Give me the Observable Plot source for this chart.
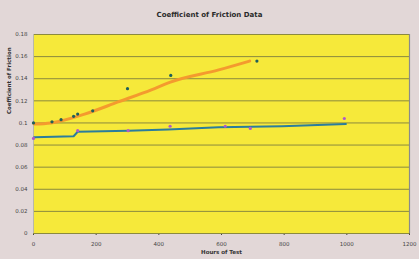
<!DOCTYPE html>
<html>
<head>
<meta charset="utf-8">
<script src="https://cdn.jsdelivr.net/npm/d3@7"></script>
<script src="https://cdn.jsdelivr.net/npm/@observablehq/plot@0.6"></script>
<style>
  html, body { margin: 0; padding: 0; background: #ffffff; }
  #wrap { width: 419px; height: 259px; background: #e2d7d7; overflow: hidden; }
  #title { height: 26px; text-align: center; box-sizing: border-box; padding-top: 11px;
           font: bold 7px "DejaVu Sans", sans-serif; color: #2a2a2a; }
</style>
</head>
<body>
<div id="wrap">
  <div id="title">Coefficient of Friction Data</div>
  <div id="chart"></div>
</div>
<script>
// Series 1: measured (dark teal dots) and orange trend line
const hoursDots = [0, 59, 88, 128, 141, 189, 300, 438, 713];
const cofDots = [0.100, 0.101, 0.103, 0.106, 0.108, 0.111, 0.131, 0.143, 0.156];
const hoursOrange = [2, 55, 163, 270, 376, 437, 591, 690];
const cofOrange = [0.099, 0.100, 0.108, 0.119, 0.130, 0.137, 0.148, 0.156];
// Series 2: blue line and purple dots
const hoursBlue = [2, 128, 141, 302, 430, 591, 793, 997];
const cofBlue = [0.087, 0.088, 0.092, 0.093, 0.094, 0.096, 0.097, 0.099];
const hoursPurple = [0, 141, 302, 436, 612, 692, 992];
const cofPurple = [0.086, 0.093, 0.093, 0.097, 0.097, 0.095, 0.104];
// Axes
const xTicks = [0, 200, 400, 600, 800, 1000, 1200];
const yTicks = [0, 0.02, 0.04, 0.06, 0.08, 0.1, 0.12, 0.14, 0.16, 0.18];
const xLabel = "Hours of Test";
const yLabel = "Coefficient of Friction";

const zip = (xs, ys) => xs.map((x, i) => ({x, y: ys[i]}));
const fmt = d => d === 0 ? "0" : String(+d.toFixed(2));

const chart = Plot.plot({
  width: 419,
  height: 233,
  marginTop: 8,
  marginBottom: 26,
  marginLeft: 33,
  marginRight: 10,
  style: {background: "transparent", fontFamily: "DejaVu Sans, sans-serif", fontSize: "5.5px", color: "#444"},
  x: {domain: [0, 1200], ticks: xTicks, label: null, tickSize: 2, tickFormat: d => String(d)},
  y: {domain: [0, 0.18], ticks: yTicks, label: null, tickSize: 0, tickPadding: 6, tickFormat: fmt},
  marks: [
    Plot.frame({fill: "#f6e93a", stroke: "none"}),
    Plot.gridY(yTicks, {stroke: "#8b8a3e", strokeOpacity: 1, strokeWidth: 1}),
    Plot.ruleX([1200], {stroke: "#8a8a8a", strokeWidth: 1.2}),
    Plot.ruleX([0], {stroke: "#b8b8a8", strokeWidth: 1}),
    Plot.line(zip(hoursOrange, cofOrange), {x: "x", y: "y", stroke: "#f49a2e", strokeWidth: 3, curve: "monotone-x"}),
    Plot.line(zip(hoursBlue, cofBlue), {x: "x", y: "y", stroke: "#2b7d9c", strokeWidth: 2}),
    Plot.dot(zip(hoursDots, cofDots), {x: "x", y: "y", r: 1.6, fill: "#1f5f5a", stroke: "none"}),
    Plot.dot(zip(hoursPurple, cofPurple), {x: "x", y: "y", r: 1.6, fill: "#b05ac8", stroke: "none"}),
    Plot.text([xLabel], {frameAnchor: "bottom", dy: 20, fontWeight: "bold", fontSize: 5.5, fill: "#333"}),
    Plot.text([yLabel], {frameAnchor: "left", dx: -24, dy: -20, rotate: -90, fontWeight: "bold", fontSize: 5.5, fill: "#333"})
  ]
});
document.getElementById("chart").appendChild(chart);
</script>
</body>
</html>
